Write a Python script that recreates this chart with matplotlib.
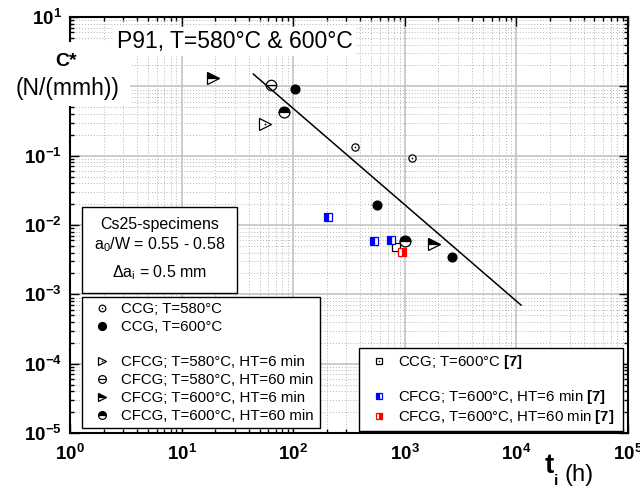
import matplotlib
matplotlib.use("Agg")
import matplotlib.pyplot as plt
import numpy as np
from matplotlib.lines import Line2D
from matplotlib.patches import Rectangle
from matplotlib.ticker import FuncFormatter, LogLocator, NullFormatter

plt.rcParams["font.family"] = ["Liberation Sans", "DejaVu Sans"]
plt.rcParams["mathtext.fontset"] = "custom"
plt.rcParams["mathtext.rm"] = "Liberation Sans"
plt.rcParams["mathtext.it"] = "Liberation Sans:italic"
plt.rcParams["mathtext.bf"] = "Liberation Sans:bold"

# values: t_i [h], C* [N/(mm h)]
ccg580_t = [356, 1150]
ccg580_c = [0.133, 0.0914]
ccg600_t = [104, 565, 2640]
ccg600_c = [0.93, 0.0193, 0.00345]
cfcg580_ht6_t = [56]
cfcg580_ht6_c = [0.29]
cfcg580_ht60_t = [63]
cfcg580_ht60_c = [1.05]
cfcg600_ht6_t = [19, 1840]
cfcg600_ht6_c = [1.34, 0.0054]
cfcg600_ht60_t = [83, 1010]
cfcg600_ht60_c = [0.43, 0.0058]
ref_ccg600_t = [830]
ref_ccg600_c = [0.0048]
ref_ht6_t = [205, 535, 757]
ref_ht6_c = [0.013, 0.0059, 0.006]
ref_ht60_t = [950]
ref_ht60_c = [0.0041]
fit_t = [44, 11000]
fit_c = [1.5, 0.0007]

W, H = 640, 488


def fx(px):
    return px / W


def fy(py):
    return 1 - py / H


fig = plt.figure(figsize=(6.4, 4.88), dpi=100)
ax = fig.add_axes([fx(70), fy(433), fx(628) - fx(70), fy(17) - fy(433)])
ax.set_xscale("log")
ax.set_yscale("log")
ax.set_xlim(1, 1e5)
ax.set_ylim(1e-5, 10)
ax.set_axisbelow(True)

ax.plot(fit_t, fit_c, color="black", lw=1.1, zorder=2)

ew = 0.9
ax.plot(ccg580_t, ccg580_c, ls="none", marker="o", ms=5.2, mfc="white", mec="black", mew=ew, zorder=3)
ax.plot(ccg580_t, ccg580_c, ls="none", marker="o", ms=1.3, mfc="black", mew=0, zorder=4)
ax.plot(ccg600_t, ccg600_c, ls="none", marker="o", ms=6.3, mfc="black", mec="black", zorder=3)
ax.plot(cfcg580_ht6_t, cfcg580_ht6_c, ls="none", marker=">", ms=9.3, mfc="white", mec="black", mew=ew, zorder=3)
ax.plot(cfcg580_ht6_t, cfcg580_ht6_c, ls="none", marker="o", ms=1.3, mfc="black", mew=0, zorder=4)
ax.plot(cfcg580_ht60_t, cfcg580_ht60_c, ls="none", marker="o", ms=7.5, mfc="none", mec="black", mew=ew, zorder=3)
ax.plot(cfcg580_ht60_t, cfcg580_ht60_c, ls="none", marker="_", ms=7.5, mec="black", mew=ew, zorder=3)
ax.plot(cfcg600_ht6_t, cfcg600_ht6_c, ls="none", marker=">", ms=9.3, fillstyle="top",
        mfc="black", mfcalt="white", mec="black", mew=ew, zorder=3)
ax.plot(cfcg600_ht60_t, cfcg600_ht60_c, ls="none", marker="o", ms=7.8, fillstyle="top",
        mfc="black", mfcalt="white", mec="black", mew=ew, zorder=3)
ax.plot(ref_ccg600_t, ref_ccg600_c, ls="none", marker="s", ms=5.6, mfc="white", mec="black", mew=ew, zorder=3)
ax.plot(ref_ht6_t, ref_ht6_c, ls="none", marker="s", ms=5.6, fillstyle="left",
        mfc="blue", mfcalt="white", mec="blue", mew=ew, zorder=4)
ax.plot(ref_ht60_t, ref_ht60_c, ls="none", marker="s", ms=5.6, fillstyle="right",
        mfc="red", mfcalt="white", mec="red", mew=ew, zorder=4)


def fmt_x(v, pos):
    return r"$\mathbf{10^{%d}}$" % int(round(np.log10(v)))


def fmt_y(v, pos):
    e = int(round(np.log10(v)))
    if e == 0:
        return ""  # hidden behind the unit label in the original
    return r"$\mathbf{10^{%d}}$" % e


for axis, fmt in ((ax.xaxis, fmt_x), (ax.yaxis, fmt_y)):
    axis.set_major_locator(LogLocator(base=10, numticks=12))
    axis.set_minor_locator(LogLocator(base=10, subs=range(2, 10), numticks=12))
    axis.set_major_formatter(FuncFormatter(fmt))
    axis.set_minor_formatter(NullFormatter())

ax.tick_params(which="both", direction="in", top=True, right=True, width=1.0, labelsize=13.5)
ax.tick_params(which="major", length=6.5)
ax.tick_params(which="minor", length=3.2)
ax.tick_params(axis="x", pad=8)
ax.tick_params(axis="y", pad=6)
for sp in ax.spines.values():
    sp.set_linewidth(1.5)
ax.grid(True, which="major", color="#c4c4c4", lw=1.2, ls="-")
ax.grid(True, which="minor", color="#b4b4b4", lw=0.7, ls=(0, (1, 2)))

# legends
lms = 5.6
dot = dict(ls="none", marker="o", ms=1.1, mfc="black", mew=0)
blank = Line2D([], [], ls="none")
h2 = [
    (Line2D([], [], ls="none", marker="o", ms=4.8, mfc="none", mec="black", mew=ew), Line2D([], [], **dot)),
    Line2D([], [], ls="none", marker="o", ms=lms, mfc="black", mec="black"),
    blank,
    (Line2D([], [], ls="none", marker=">", ms=6.3, mfc="none", mec="black", mew=ew), Line2D([], [], **dot)),
    (Line2D([], [], ls="none", marker="o", ms=lms, mfc="none", mec="black", mew=ew),
     Line2D([], [], ls="none", marker="_", ms=lms, mec="black", mew=ew)),
    Line2D([], [], ls="none", marker=">", ms=6.3, fillstyle="top", mfc="black", mfcalt="white", mec="black", mew=ew),
    Line2D([], [], ls="none", marker="o", ms=lms, fillstyle="top", mfc="black", mfcalt="white", mec="black", mew=ew),
]
l2 = [
    "CCG; T=580°C",
    "CCG, T=600°C",
    " ",
    "CFCG; T=580°C, HT=6 min",
    "CFCG; T=580°C, HT=60 min",
    "CFCG; T=600°C, HT=6 min",
    "CFCG, T=600°C, HT=60 min",
]
h3 = [
    (Line2D([], [], ls="none", marker="s", ms=5.0, mfc="none", mec="black", mew=ew), Line2D([], [], **dot)),
    blank,
    Line2D([], [], ls="none", marker="s", ms=5.0, fillstyle="left", mfc="blue", mfcalt="white", mec="blue", mew=ew),
    Line2D([], [], ls="none", marker="s", ms=5.0, fillstyle="right", mfc="red", mfcalt="white", mec="red", mew=ew),
]
l3 = [
    r"CCG; T=600°C $\mathbf{[7]}$",
    " ",
    r"CFCG; T=600°C, HT=6 min $\mathbf{[7]}$",
    r"CFCG, T=600°C, HT=60 min $\mathbf{[7]}$",
]
leg_kw = dict(loc="upper left", bbox_transform=fig.transFigure, mode="expand", borderaxespad=0,
              borderpad=0.35, handlelength=1.97, handletextpad=0.28,
              fontsize=10.8, frameon=True, fancybox=False, edgecolor="black", framealpha=1)
leg2 = ax.legend(h2, l2, bbox_to_anchor=(fx(82), fy(297), fx(320) - fx(82), 0),
                 labelspacing=0.25, **leg_kw)
leg2.get_frame().set_linewidth(1.0)
ax.add_artist(leg2)
leg3 = ax.legend(h3, l3, bbox_to_anchor=(fx(359), fy(348), fx(623) - fx(359), 0),
                 labelspacing=0.1, **leg_kw)
leg3.get_frame().set_linewidth(1.0)

# specimen info box
fig.add_artist(Rectangle((fx(82), fy(293)), fx(237) - fx(82), fy(207) - fy(293),
                         transform=fig.transFigure, fc="white", ec="black", lw=1.0, zorder=3))
fig.text(fx(159.5), fy(225), "Cs25-specimens", fontsize=11.5, ha="center", va="center", zorder=4)
fig.text(fx(159.5), fy(245), r"a$_0$/W = 0.55 - 0.58", fontsize=11.5, ha="center", va="center", zorder=4)
fig.text(fx(159.5), fy(273), r"Δa$_\mathrm{i}$ = 0.5 mm", fontsize=11.5, ha="center", va="center", zorder=4)

# y label with white patch over the axis
fig.add_artist(Rectangle((0, fy(106)), fx(130), fy(42) - fy(106), transform=fig.transFigure,
                         fc="white", ec="none", zorder=3))
fig.text(fx(66.5), fy(61), "C*", fontsize=14, fontweight="bold", ha="center", va="center", zorder=4)
fig.text(fx(68), fy(89), "(N/(mmh))", fontsize=16.5, ha="center", va="center", zorder=4)

# title
fig.text(fx(116.7), fy(48), "P91, T=580°C & 600°C", fontsize=16.5, ha="left", va="baseline",
         bbox=dict(fc="white", ec="none", pad=2), zorder=4)

# x label
fig.text(fx(545), fy(473), "t", fontsize=20, fontweight="bold", ha="left", va="baseline")
fig.text(fx(554), fy(485), "i", fontsize=11, fontweight="bold", ha="left", va="baseline")
fig.text(fx(564), fy(481), "(h)", fontsize=17, ha="left", va="baseline")

fig.savefig("out.png", dpi=100)
